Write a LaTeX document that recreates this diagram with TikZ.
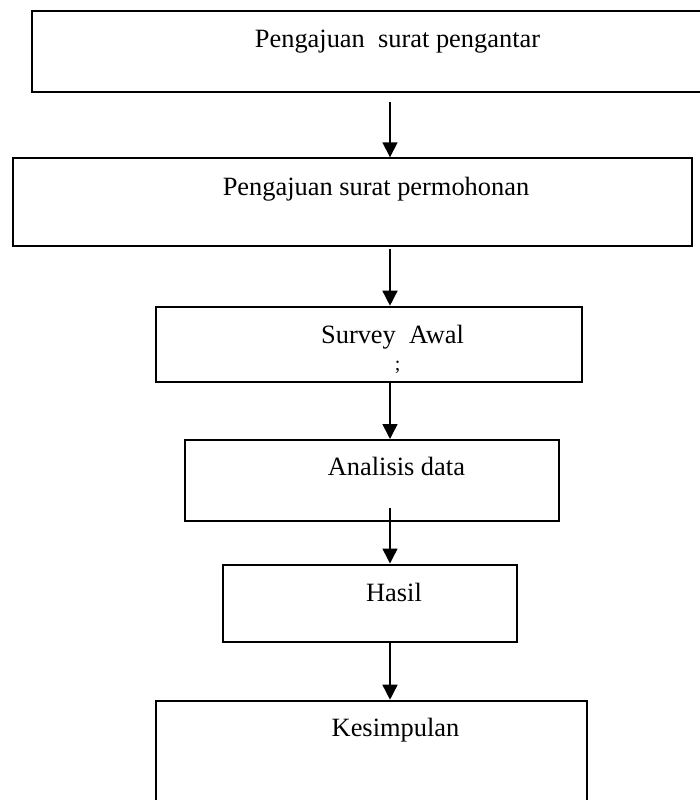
\documentclass[tikz,border=0pt]{standalone}
\usepackage{fontspec}
\setmainfont{Liberation Serif}
\usetikzlibrary{arrows.meta, positioning, calc}

\begin{document}
\begin{tikzpicture}[
    x=1pt, y=-1pt,
    box/.style={rectangle, draw, line width=2pt, inner sep=0pt},
    lbl/.style={anchor=base, inner sep=0pt, font=\fontsize{26.4}{30}\selectfont},
    arrow/.style={-{Triangle[length=15pt, width=15pt]}, line width=1.5pt}
]
\useasboundingbox (0,0) rectangle (699,800);

% Boxes
\node[box, minimum width=678.3pt, minimum height=80.7pt] (b1) at (370.85,51.35) {};
\node[box, minimum width=679pt, minimum height=87.4pt] (b2) at (352.8,202) {};
\node[box, minimum width=426pt, minimum height=75pt] (b3) at (368.7,344.2) {};
\node[box, minimum width=374pt, minimum height=80.5pt] (b4) at (372,480.25) {};
\node[box, minimum width=294pt, minimum height=77.5pt] (b5) at (369.7,603.25) {};
\node[box, minimum width=431pt, minimum height=104.3pt] (b6) at (371.2,752.85) {};

% Texts
\node[lbl] (t1) at (397.5,48) {Pengajuan\ \ surat pengantar};
\node[lbl] (t2) at (376,195) {Pengajuan surat permohonan};
\node[lbl] (t3) at (392.5,343.3) {Survey\ \ Awal};
\node[lbl, font=\fontsize{20}{24}\selectfont] (t3b) at (397.7,370) {;};
\node[lbl] (t4) at (396.4,475.7) {Analisis data};
\node[lbl] (t5) at (394,601) {Hasil};
\node[lbl] (t6) at (395.5,736.7) {Kesimpulan};

% Arrows
\coordinate (axis) at (390,0);
\draw[arrow] ($(b1.south -| axis)+(0,9)$) -- (b2.north -| axis);
\draw[arrow] ($(b2.south -| axis)+(0,2)$) -- (b3.north -| axis);
\draw[arrow] (b3.south -| axis) -- (b4.north -| axis);
\draw[arrow] ($(b4.south -| axis)+(0,-14)$) -- (b5.north -| axis);
\draw[arrow] (b5.south -| axis) -- (b6.north -| axis);
\end{tikzpicture}
\end{document}
